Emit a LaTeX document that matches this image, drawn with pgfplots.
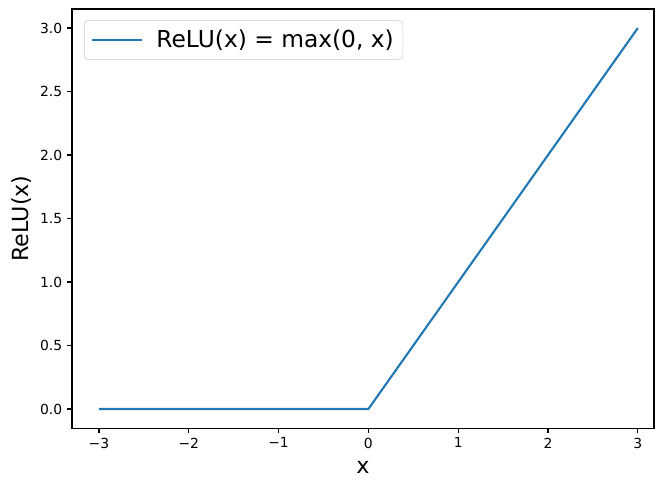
\documentclass[border=0pt]{standalone}
\usepackage{pgfplots}
\pgfplotsset{compat=1.18}
\usepackage{fontspec}
\setmainfont{DejaVu Sans}
\definecolor{c0}{HTML}{1F77B4}
\begin{document}
\begin{tikzpicture}
\begin{axis}[
  name=ax,
  scale only axis,
  width=419pt, height=301.7pt,
  xmin=-3.3, xmax=3.18, ymin=-0.15, ymax=3.15,
  xtick={-3,-2,-1,0,1,2,3},
  xticklabels={−3,−2,−1,0,1,2,3},
  ytick={0,0.5,1,1.5,2,2.5,3},
  yticklabels={0.0,0.5,1.0,1.5,2.0,2.5,3.0},
  tick align=outside, tick pos=left,
  major tick length=3.5pt,
  every tick/.style={black, line width=0.8pt},
  axis line style={line width=0.8pt},
  tick label style={font=\fontsize{10}{12}\selectfont},
  xlabel={x}, ylabel={ReLU(x)},
  label style={font=\fontsize{16}{19}\selectfont},
  xlabel style={at={(axis description cs:0.5,0)}, anchor=center, yshift=-28pt},
  ylabel style={at={(axis description cs:0,0.5)}, anchor=center, yshift=36pt},
  legend style={font=\fontsize{16.8}{20}\selectfont, draw=black!20, rounded corners=3pt, at={(0,1)}, anchor=north west, xshift=8.6pt, yshift=-8pt, inner xsep=4.5pt, inner ysep=5pt, legend cell align=left, /tikz/column 1/.style={column sep=8pt}},
  legend image code/.code={\draw[#1] (0pt,0pt) -- (36pt,0pt);},
]
\addplot[c0, line width=1.5pt] coordinates {(-3,0) (0,0) (3,3)};
\addlegendentry{ReLU(x) = max(0, x)}
\end{axis}
\pgfresetboundingbox
\path (ax.south west) ++(-51.84pt,-36pt) rectangle ([xshift=0.72pt,yshift=6.48pt]ax.north east);
\end{tikzpicture}
\end{document}
